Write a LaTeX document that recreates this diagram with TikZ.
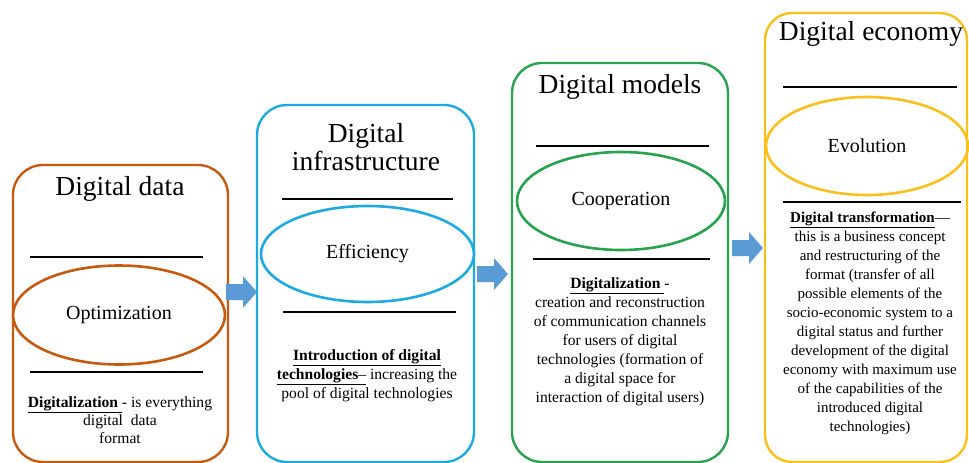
\documentclass[tikz,border=0pt]{standalone}
\usepackage{fontspec}
\setmainfont{Liberation Serif}
\usetikzlibrary{shapes.geometric}

\definecolor{stagebrown}{RGB}{197,90,17}
\definecolor{stageblue}{RGB}{30,170,225}
\definecolor{stagegreen}{RGB}{40,162,78}
\definecolor{stageyellow}{RGB}{250,192,30}
\definecolor{arrowfill}{RGB}{91,155,213}

\tikzset{
  stagebox/.style={draw, rectangle, rounded corners=30pt, line width=2.4pt,
    inner sep=0pt, fill=none},
  goal/.style={draw, ellipse, line width=2.6pt, inner sep=0pt,
    font=\fontsize{20}{24}\selectfont},
  heading/.style={anchor=base, inner sep=0pt, align=center,
    font=\fontsize{27.5}{28}\selectfont},
  body/.style={anchor=north, inner sep=0pt, align=center,
    font=\fontsize{15.6}{19}\selectfont},
  rule/.style={line width=1.4pt, black},
  blockarrow/.pic={
    \fill[arrowfill] (0,-8) -- (17,-8) -- (17,-16) -- (31,0) -- (17,16)
      -- (17,8) -- (0,8) -- cycle;
  }
}

\begin{document}
\begin{tikzpicture}[x=1pt,y=-1pt]
\useasboundingbox (0,0) rectangle (969,463);

% ---- stage 1: digital data ----
\node[stagebox, draw=stagebrown, minimum width=215pt, minimum height=297pt]
  (b1) at (120.5,313.5) {};
\node[heading] (t1) at (120,195) {Digital data};
\draw[rule] (30,257) -- (203,257);
\node[goal, draw=stagebrown, minimum width=212pt, minimum height=99pt]
  (e1) at (119,315) {Optimization};
\draw[rule] (30,372) -- (203,372);
\node[body, font=\fontsize{15.6}{18.2}\selectfont] (d1) at (120,396)
  {\underline{\textbf{Digitalization }}- is everything\\digital\ \ data\\format};

% ---- stage 2: digital infrastructure ----
\node[stagebox, draw=stageblue, minimum width=217pt, minimum height=357pt]
  (b2) at (365.5,283.5) {};
\node[heading] (t2) at (366,170) {Digital\\infrastructure};
\draw[rule] (282,199) -- (453,199);
\node[goal, draw=stageblue, minimum width=213pt, minimum height=96pt]
  (e2) at (367.5,254) {Efficiency};
\draw[rule] (283,312) -- (456,312);
\node[body] (d2) at (367,349)
  {\underline{\textbf{Introduction of digital}}\\
   \underline{\textbf{technologies}–} increasing the\\
   pool of digital\ technologies};

% ---- stage 3: digital models ----
\node[stagebox, draw=stagegreen, minimum width=216pt, minimum height=399pt]
  (b3) at (620,262.5) {};
\node[heading] (t3) at (620,93) {Digital models};
\draw[rule] (536,146) -- (709,146);
\node[goal, draw=stagegreen, minimum width=208pt, minimum height=98pt]
  (e3) at (621,201) {Cooperation};
\draw[rule] (533,259) -- (710,259);
\node[body] (d3) at (620,277)
  {\underline{\textbf{Digitalization }}-\\
   creation and reconstruction\\
   of communication\ channels\\
   for users of digital\\
   technologies (formation of\\
   a digital\ space for\\
   interaction\ of digital\ users)};

% ---- stage 4: digital economy ----
\node[stagebox, draw=stageyellow, minimum width=202pt, minimum height=449pt,
  rounded corners=27pt] (b4) at (866,237.5) {};
\node[heading] (t4) at (871,40) {Digital economy};
\draw[rule] (783,87) -- (957,87);
\node[goal, draw=stageyellow, minimum width=202pt, minimum height=98pt]
  (e4) at (867,146) {Evolution};
\draw[rule] (783,202) -- (961,202);
\node[body, font=\fontsize{15}{19}\selectfont] (d4) at (870,212)
  {\underline{\textbf{Digital transformation}}—\\
   this is a business concept\\
   and restructuring\ of the\\
   format (transfer\ of all\\
   possible elements\ of the\\
   socio-economic system to a\\
   digital\ status and further\\
   development\ of the\ digital\\
   economy with\ maximum\ use\\
   of the capabilities\ of the\\
   introduced digital\\
   technologies)};

% ---- block arrows between the stages ----
\pic (a1) at (226,292) {blockarrow};
\pic (a2) at (477,274) {blockarrow};
\pic (a3) at (732,248) {blockarrow};
\end{tikzpicture}
\end{document}
